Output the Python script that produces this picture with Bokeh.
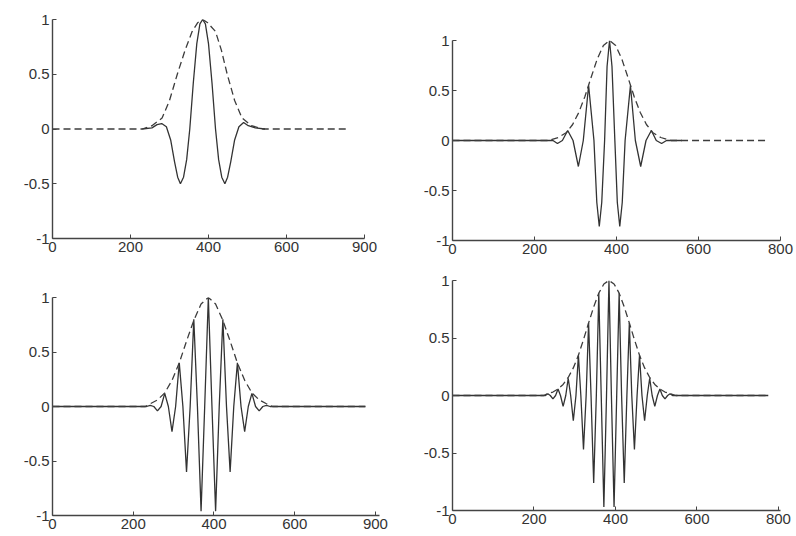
from bokeh.plotting import figure
from bokeh.layouts import column, row
from bokeh.models import Range1d, FixedTicker
from bokeh.embed import file_html
from bokeh.resources import INLINE

# ---- data ----
x_ticks = [0, 200, 400, 600, 800]
y_ticks = [-1, -0.5, 0, 0.5, 1]
y_tick_labels = ["-1", "-0.5", "0", "0.5", "1"]

# panel 1 (top-left)
wave1_x = [230, 255, 268, 280, 292, 303, 313, 321, 328, 336, 344, 352, 361, 370, 378, 385,
           392, 400, 409, 418, 426, 434, 442, 449, 457, 467, 478, 490, 502, 520, 545]
wave1_y = [0, 0.01, 0.04, 0.05, 0.02, -0.1, -0.3, -0.44, -0.5, -0.44, -0.28, 0, 0.42, 0.78, 0.96, 1.0,
           0.96, 0.78, 0.42, 0, -0.28, -0.44, -0.5, -0.44, -0.3, -0.1, 0.02, 0.06, 0.03, 0.01, 0]
env1_x = [0, 230, 255, 281, 300, 320, 340, 358, 372, 385, 398, 418, 433, 448, 467, 486, 510, 540, 760]
env1_y = [0, 0, 0.03, 0.1, 0.26, 0.5, 0.72, 0.89, 0.97, 1.0, 0.97, 0.89, 0.72, 0.5, 0.26, 0.1, 0.03, 0, 0]

# panel 2 (top-right)
wave2_x = [0, 245, 256, 268, 281, 294, 307, 319, 332, 345, 352, 358, 364, 371, 377, 383,
           389, 396, 402, 408, 414, 421, 434, 446, 459, 472, 485, 497, 510, 522, 560]
wave2_y = [0, 0, -0.03, 0, 0.1, 0, -0.26, 0, 0.55, 0, -0.62, -0.86, -0.62, 0, 0.74, 1.0,
           0.74, 0, -0.62, -0.86, -0.62, 0, 0.55, 0, -0.26, 0, 0.1, 0, -0.03, 0, 0]
env2_x = [0, 233, 258, 278, 293, 308, 323, 338, 353, 368, 383, 398, 413, 428, 443, 458, 473, 488, 508, 533, 770]
env2_y = [0, 0, 0.03, 0.08, 0.16, 0.28, 0.44, 0.63, 0.815, 0.95, 1.0, 0.95, 0.815, 0.63, 0.44, 0.28, 0.16, 0.08, 0.03, 0, 0]

# panel 3 (bottom-left)
wave3_x = [0, 233, 242, 251, 260, 269, 278, 287, 296, 305, 314, 323, 332, 341, 350, 359, 368, 377, 386,
           395, 404, 413, 422, 431, 440, 449, 458, 467, 476, 485, 494, 503, 512, 521, 530, 539, 775]
wave3_y = [0, 0, 0.01, 0, -0.04, 0, 0.12, 0, -0.23, 0, 0.4, 0, -0.6, 0, 0.8, 0, -0.96, 0, 1.0,
           0, -0.96, 0, 0.8, 0, -0.6, 0, 0.4, 0, -0.23, 0, 0.12, 0, -0.04, 0, 0.01, 0, 0]
env3_x = [0, 230, 242, 260, 278, 296, 314, 332, 350, 368, 386, 404, 422, 440, 458, 476, 494, 512, 530, 545, 775]
env3_y = [0, 0, 0.025, 0.06, 0.125, 0.24, 0.4, 0.6, 0.79, 0.94, 1.0, 0.94, 0.79, 0.6, 0.4, 0.24, 0.125, 0.06, 0.025, 0, 0]

# panel 4 (bottom-right)
wave4_x = [0, 228, 234, 240, 246.5, 253, 259, 265, 271.5, 278, 284, 290, 296.5, 303, 309, 315, 321.5, 328,
           334, 340, 346.5, 353, 359, 365, 371.5, 378, 384, 390, 396.5, 403, 409, 415, 421.5, 428, 434,
           440, 446.5, 453, 459, 465, 471.5, 478, 484, 490, 496.5, 503, 509, 515, 521.5, 528, 534, 540, 775]
wave4_y = [0, 0, 0.015, 0, -0.03, 0, 0.056, 0, -0.095, 0, 0.15, 0, -0.22, 0, 0.35, 0, -0.47, 0,
           0.63, 0, -0.76, 0, 0.89, 0, -0.97, 0, 1.0, 0, -0.97, 0, 0.89, 0, -0.76, 0, 0.63,
           0, -0.47, 0, 0.35, 0, -0.22, 0, 0.15, 0, -0.095, 0, 0.056, 0, -0.03, 0, 0.015, 0, 0]
env4_x = [0, 224, 234, 246.5, 259, 271.5, 284, 296.5, 309, 321.5, 334, 346.5, 359, 371.5, 384,
          396.5, 409, 421.5, 434, 446.5, 459, 471.5, 484, 496.5, 509, 521.5, 534, 548, 775]
env4_y = [0, 0, 0.016, 0.03, 0.056, 0.096, 0.157, 0.24, 0.35, 0.486, 0.63, 0.77, 0.89, 0.97, 1.0,
          0.97, 0.89, 0.77, 0.63, 0.486, 0.35, 0.24, 0.157, 0.096, 0.056, 0.03, 0.016, 0, 0]

x_labels_1 = {0: "0", 200: "200", 400: "400", 600: "600", 800: "900"}
x_labels_2 = {0: "0", 200: "200", 400: "400", 600: "600", 800: "800"}
x_labels_3 = {0: "0", 200: "200", 400: "400", 600: "600", 800: "900"}
x_labels_4 = {0: "0", 200: "200", 400: "400", 600: "600", 800: "800"}

FONT = "Liberation Sans"


def panel(width, height, bl, br, bt, bb, x_end, wx, wy, ex, ey, xlabels):
    p = figure(width=width, height=height, x_range=Range1d(0, x_end), y_range=Range1d(-1, 1),
               output_backend="svg", toolbar_location=None,
               min_border_left=bl, min_border_right=br, min_border_top=bt, min_border_bottom=bb)
    p.frame_align = False
    p.title.visible = False
    p.outline_line_color = None
    p.grid.visible = False
    p.background_fill_color = "white"
    p.border_fill_color = "white"
    p.line(wx, wy, line_color="#333333", line_width=1.3)
    p.line(ex, ey, line_color="#3c3c3c", line_width=1.3, line_dash="7 4")
    for ax in (p.xaxis[0], p.yaxis[0]):
        ax.axis_line_color = "#444444"
        ax.axis_line_width = 1.4
        ax.major_tick_in = 4
        ax.major_tick_out = 0
        ax.major_tick_line_color = "#444444"
        ax.minor_tick_line_color = None
        ax.major_label_text_font = FONT
        ax.major_label_text_font_size = "15px"
        ax.major_label_text_color = "#333333"
        ax.major_label_standoff = 3
    p.xaxis[0].ticker = FixedTicker(ticks=x_ticks)
    p.xaxis[0].major_label_overrides = xlabels
    p.yaxis[0].ticker = FixedTicker(ticks=y_ticks)
    p.yaxis[0].major_label_overrides = dict(zip(y_ticks, y_tick_labels))
    return p


p1 = panel(400, 268, 52, 36, 19, 30, 800, wave1_x, wave1_y, env1_x, env1_y, x_labels_1)
p2 = panel(396, 268, 52, 16, 40, 28, 800, wave2_x, wave2_y, env2_x, env2_y, x_labels_2)
p3 = panel(400, 268, 52, 21, 29, 21, 810, wave3_x, wave3_y, env3_x, env3_y, x_labels_3)
p4 = panel(396, 268, 52, 16, 12, 26, 805, wave4_x, wave4_y, env4_x, env4_y, x_labels_4)

layout = column(row(p1, p2), row(p3, p4))
open("out.html", "w").write(file_html(layout, INLINE))
